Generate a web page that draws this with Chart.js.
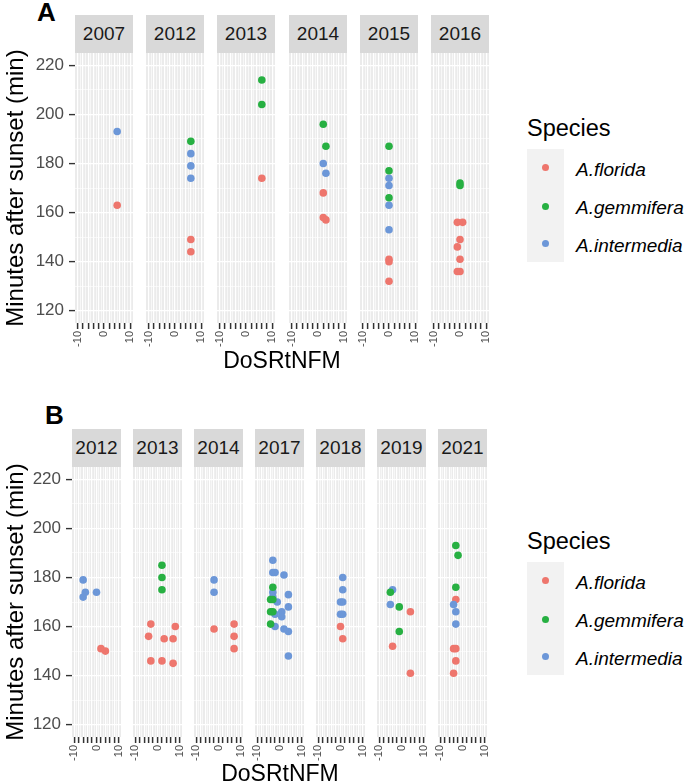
<!DOCTYPE html>
<html>
<head>
<meta charset="utf-8">
<script src="https://cdn.jsdelivr.net/npm/chart.js@4.4.0/dist/chart.umd.min.js"></script>
<style>
  body { margin: 0; background: #fff; font-family: "Liberation Sans", Arial, sans-serif; }
  #wrap { position: relative; width: 685px; height: 782px; overflow: hidden; }
  canvas { position: absolute; }
  .strip { position: absolute; background: #D9D9D9; color: #1A1A1A; font-size: 19px; text-align: center; }
  .txt { position: absolute; white-space: nowrap; color: #000; }
  .tag { font-weight: bold; font-size: 26px; line-height: 26px; }
  .xtitle { font-size: 23px; line-height: 23px; width: 300px; text-align: center; }
  .ltitle { font-size: 23.5px; line-height: 23.5px; }
  .lkeys { position: absolute; background: #F2F2F2; }
  .ldot { position: absolute; width: 7px; height: 7px; border-radius: 50%; }
  .llab { font-size: 19px; line-height: 19px; font-style: italic; }
</style>
</head>
<body>
<div id="wrap"></div>
<script>
// categories
const yearsA = [2007, 2012, 2013, 2014, 2015, 2016];
const yearsB = [2012, 2013, 2014, 2017, 2018, 2019, 2021];
const speciesNames = ['A.florida', 'A.gemmifera', 'A.intermedia'];

// rows are [year, DoSRtNFM, minutes after sunset]
const floridaA = [
  [2007, 5, 163],
  [2012, 6, 149], [2012, 6, 144],
  [2013, 6, 174],
  [2014, 2, 168], [2014, 2, 158], [2014, 3, 157],
  [2015, 0, 141], [2015, 0, 140], [2015, 0, 132],
  [2016, -1, 156], [2016, 1, 156], [2016, 0, 149], [2016, -1, 146], [2016, 0, 141], [2016, -1, 136], [2016, 0, 136]
];
const gemmiferaA = [
  [2012, 6, 189],
  [2013, 6, 214], [2013, 6, 204],
  [2014, 2, 196], [2014, 3, 187],
  [2015, 0, 187], [2015, 0, 177], [2015, 0, 166],
  [2016, 0, 172], [2016, 0, 171]
];
const intermediaA = [
  [2007, 5, 193],
  [2012, 6, 184], [2012, 6, 179], [2012, 6, 174],
  [2014, 2, 180], [2014, 3, 176],
  [2015, 0, 174], [2015, 0, 171], [2015, 0, 163], [2015, 0, 153]
];

const floridaB = [
  [2012, 2, 151], [2012, 4, 150],
  [2013, -3, 161], [2013, -4, 156], [2013, -3, 146], [2013, 2, 146], [2013, 3, 155], [2013, 7, 155], [2013, 7, 145], [2013, 8, 160],
  [2014, -2, 159], [2014, 7, 161], [2014, 7, 156], [2014, 7, 151],
  [2018, 0, 160], [2018, 1, 155],
  [2019, 4, 166], [2019, -4, 152], [2019, 4, 141],
  [2021, -3, 171], [2021, -4, 151], [2021, -3, 151], [2021, -3, 146], [2021, -4, 141]
];
const gemmiferaB = [
  [2013, 2, 185], [2013, 2, 180], [2013, 2, 175],
  [2017, -3, 176], [2017, -4, 171], [2017, -3, 171], [2017, -4, 166], [2017, -3, 166], [2017, -4, 161],
  [2019, -5, 174], [2019, -1, 168], [2019, -1, 158],
  [2021, -3, 193], [2021, -2, 189], [2021, -3, 176]
];
const intermediaB = [
  [2012, -6, 179], [2012, -6, 172], [2012, -5, 174], [2012, 0, 174],
  [2014, -2, 179], [2014, -2, 174],
  [2017, -3, 187], [2017, -3, 182], [2017, -2, 182], [2017, 2, 181], [2017, -3, 174], [2017, -3, 172],
  [2017, 4, 173], [2017, -1, 170], [2017, 4, 168], [2017, -2, 165], [2017, 1, 166], [2017, 1, 164],
  [2017, -2, 160], [2017, 2, 159], [2017, 4, 158], [2017, 4, 148],
  [2018, 1, 180], [2018, 1, 175], [2018, 0, 170], [2018, 1, 170], [2018, 0, 165], [2018, 1, 165],
  [2019, -4, 175], [2019, -5, 169],
  [2021, -4, 169], [2021, -3, 166], [2021, -3, 161]
];

// tick labels
const xTickValues = [-10, -9, -8, -7, -6, -5, -4, -3, -2, -1, 0, 1, 2, 3, 4, 5, 6, 7, 8, 9, 10];
const xLabelValues = [-10, 0, 10];
const yTickValues = [120, 130, 140, 150, 160, 170, 180, 190, 200, 210, 220];
const yLabelValues = [120, 140, 160, 180, 200, 220];

const speciesColors = ['#EE766D', '#27B042', '#6C97D8'];
const speciesOrder = [2, 0, 1]; // green drawn on top, then blue, then red
const panelHeight = 270;
const wrap = document.getElementById('wrap');

Chart.defaults.font.family = '"Liberation Sans", Arial, sans-serif';

const panelBg = {
  id: 'panelBg',
  beforeDraw(chart) {
    const a = chart.chartArea, c = chart.ctx;
    c.save();
    c.fillStyle = '#EBEBEB';
    c.fillRect(a.left, a.top, a.right - a.left, a.bottom - a.top);
    c.restore();
  }
};

function pointsFor(rows, year) {
  return rows.filter(r => r[0] === year).map(r => ({ x: r[1], y: r[2] }));
}

function isMajorX(ctx) {
  return ctx.tick && ctx.tick.value % 2 === 0;
}

function isMajorY(ctx) {
  return ctx.tick && ctx.tick.value % 20 === 0;
}

function xScale() {
  return {
    type: 'linear', min: -11, max: 11,
    afterBuildTicks: s => { s.ticks = xTickValues.map(v => ({ value: v })); },
    afterFit: s => { s.height = 40; s.paddingLeft = 0; s.paddingRight = 0; },
    ticks: {
      autoSkip: false, minRotation: 90, maxRotation: 90, padding: 2,
      color: '#4D4D4D', font: { size: 11 },
      callback: v => xLabelValues.includes(v) ? String(v) : ''
    },
    grid: {
      color: '#FFFFFF',
      lineWidth: ctx => isMajorX(ctx) ? 1.2 : 0.6,
      tickLength: 6,
      tickWidth: ctx => isMajorX(ctx) ? 1.5 : 0,
      tickColor: ctx => isMajorX(ctx) ? '#333333' : 'rgba(0,0,0,0)'
    },
    border: { display: false }
  };
}

function yScale(first, axisWidth) {
  return {
    type: 'linear', min: 115, max: 225,
    afterBuildTicks: s => { s.ticks = yTickValues.map(v => ({ value: v })); },
    afterFit: s => { s.width = first ? axisWidth : 0; s.paddingTop = 0; s.paddingBottom = 0; },
    ticks: {
      display: first, padding: 5, color: '#4D4D4D', font: { size: 17 },
      callback: v => yLabelValues.includes(v) ? String(v) : ''
    },
    grid: {
      color: '#FFFFFF',
      lineWidth: ctx => isMajorY(ctx) ? 1.2 : 0.6,
      drawTicks: first, tickLength: 6,
      tickWidth: ctx => isMajorY(ctx) ? 1.4 : 0,
      tickColor: ctx => isMajorY(ctx) ? '#333333' : 'rgba(0,0,0,0)'
    },
    border: { display: false },
    title: {
      display: first, text: 'Minutes after sunset (min)', color: '#000000',
      font: { size: 24 }, padding: { top: 2, bottom: 0 }
    }
  };
}

function addFacet(panel, year, i) {
  const first = i === 0;
  const left = panel.lefts[i];
  const cx = first ? 0 : left - 8;
  const cw = first ? left + panel.width + 8 : panel.width + 16;
  const ch = panelHeight + 50;
  const cv = document.createElement('canvas');
  cv.width = cw; cv.height = ch;
  cv.style.left = cx + 'px';
  cv.style.top = (panel.top - 10) + 'px';
  cv.style.width = cw + 'px';
  cv.style.height = ch + 'px';
  wrap.appendChild(cv);

  const strip = document.createElement('div');
  strip.className = 'strip';
  strip.style.left = left + 'px';
  strip.style.top = (panel.top - 38) + 'px';
  strip.style.width = panel.width + 'px';
  strip.style.height = '38px';
  strip.style.lineHeight = '38px';
  strip.textContent = year;
  wrap.appendChild(strip);

  const datasets = speciesNames.map((name, s) => ({
    label: name,
    data: pointsFor(panel.rows[s], year),
    backgroundColor: speciesColors[s],
    borderWidth: 0,
    pointRadius: 3.8,
    order: speciesOrder[s]
  }));

  new Chart(cv, {
    type: 'scatter',
    data: { datasets },
    options: {
      responsive: false,
      animation: false,
      layout: { padding: { left: first ? 0 : 8, right: 8, top: 10, bottom: 0 } },
      scales: { x: xScale(), y: yScale(first, panel.axisWidth) },
      plugins: { legend: { display: false }, tooltip: { enabled: false } }
    },
    plugins: [panelBg]
  });
}

function addText(cls, text, left, top) {
  const d = document.createElement('div');
  d.className = 'txt ' + cls;
  d.style.left = left + 'px';
  d.style.top = top + 'px';
  d.textContent = text;
  wrap.appendChild(d);
  return d;
}

function addLegend(offset) {
  addText('ltitle', 'Species', 527, 117 + offset);
  const keys = document.createElement('div');
  keys.className = 'lkeys';
  keys.style.left = '527px';
  keys.style.top = (149 + offset) + 'px';
  keys.style.width = '37px';
  keys.style.height = '113px';
  wrap.appendChild(keys);
  const centers = [167.7, 206, 243.3];
  speciesNames.forEach((name, s) => {
    const dot = document.createElement('div');
    dot.className = 'ldot';
    dot.style.background = speciesColors[s];
    dot.style.left = (545.7 - 3.5) + 'px';
    dot.style.top = (centers[s] + offset - 3.5) + 'px';
    wrap.appendChild(dot);
    addText('llab', name, 576, centers[s] + offset + 8.5 - 16.1);
  });
}

const panelA = {
  years: yearsA, rows: [floridaA, gemmiferaA, intermediaA],
  top: 53, lefts: [75, 146, 217, 289, 360, 431], width: 58, axisWidth: 75
};
const panelB = {
  years: yearsB, rows: [floridaB, gemmiferaB, intermediaB],
  top: 467, lefts: [72, 133, 194, 255, 316, 377, 438], width: 49, axisWidth: 72
};

panelA.years.forEach((y, i) => addFacet(panelA, y, i));
panelB.years.forEach((y, i) => addFacet(panelB, y, i));

addText('tag', 'A', 37, -1.5);
addText('tag', 'B', 45, 401.5);
addText('xtitle', 'DoSRtNFM', 282 - 150, 349);
addText('xtitle', 'DoSRtNFM', 280 - 150, 762);
addLegend(0);
addLegend(413);
</script>
</body>
</html>
